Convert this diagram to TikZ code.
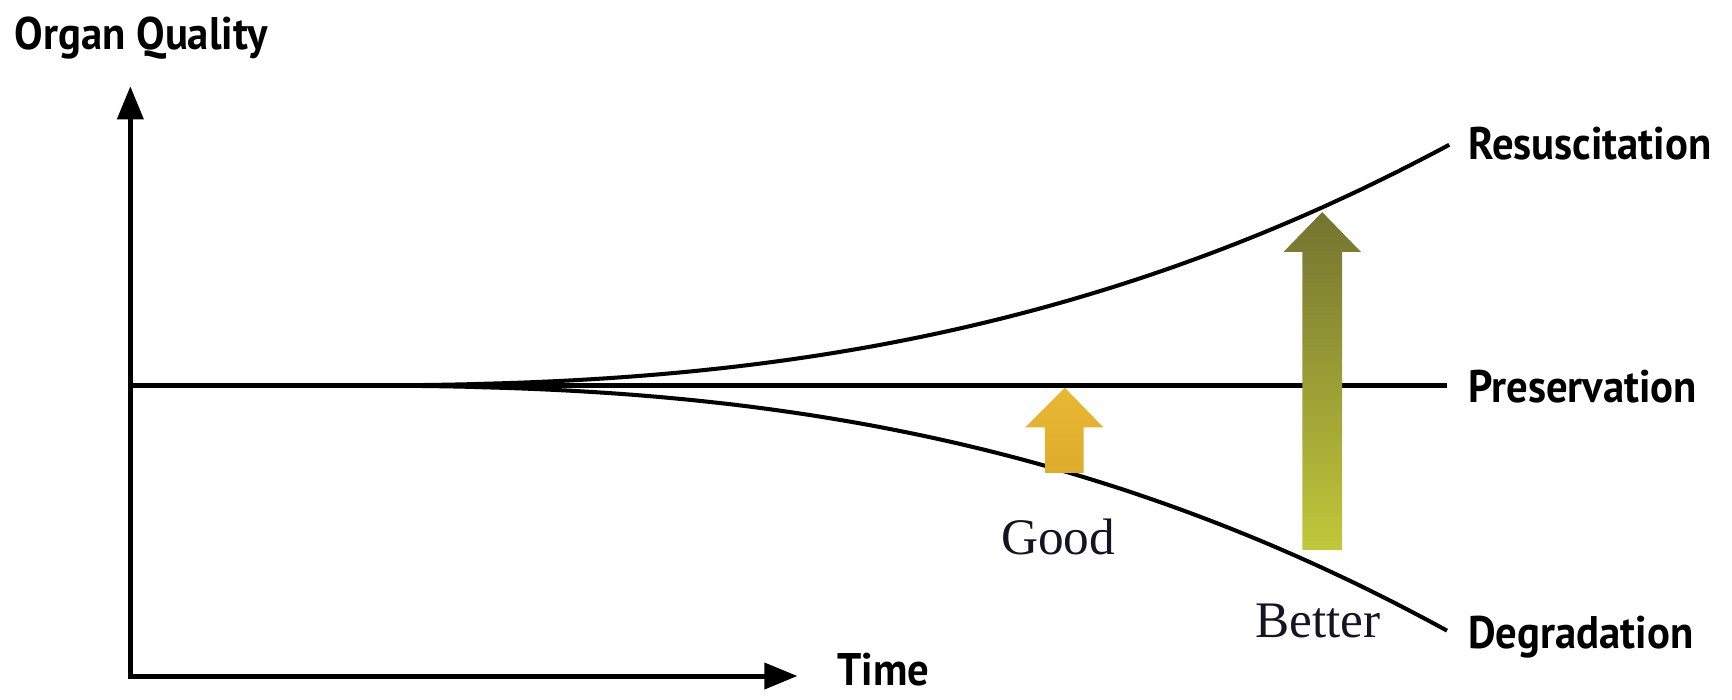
\documentclass[tikz,border=0pt]{standalone}
\usepackage{fontspec}
\usetikzlibrary{arrows.meta}
\newfontfamily\lblfont[FakeStretch=0.935]{PT Sans}
\newfontfamily\notefont{Liberation Serif}
\definecolor{goldtop}{RGB}{232,184,50}
\definecolor{goldbot}{RGB}{222,172,44}
\definecolor{olivetop}{RGB}{116,116,48}
\definecolor{olivemid}{RGB}{150,156,50}
\definecolor{olivebot}{RGB}{192,200,58}
\definecolor{notetext}{RGB}{20,20,35}
\begin{document}
\begin{tikzpicture}[x=0.025cm,y=-0.025cm,
  axis/.style={line width=3.2pt, line join=miter,
    {Triangle[length=0.75cm,width=0.58cm]}-{Triangle[length=0.75cm,width=0.58cm]}},
  curve/.style={line width=2.6pt},
  lbl/.style={font=\lblfont\bfseries\fontsize{29.4}{30}\selectfont, anchor=base west, inner sep=0pt},
  note/.style={font=\notefont\fontsize{33}{33}\selectfont, text=notetext, anchor=base west, inner sep=0pt}]
\useasboundingbox (0,0) rectangle (1568,633);

% axes
\coordinate (origin) at (118,612);
\coordinate (ytip) at (118,78);
\coordinate (xtip) at (722,612);
\draw[axis] (ytip) -- (origin) -- (xtip);

% axis titles and curve labels
\node[lbl] (ylab) at (13,45) {Organ Quality};
\node[lbl, text depth=0pt] (xlab) at (758,621) {Time};
\node[lbl] (res) at (1329,144) {Resuscitation};
\node[lbl] (pres) at (1329,364) {Preservation};
\node[lbl] (deg) at (1329,587) {Degradation};

% preservation baseline and the two diverging trends
\coordinate (pstart) at (118,349);
\coordinate (pend) at (1310,349);
\draw[curve] (pstart) -- (pend);
\draw[curve] plot[domain=300.5:1312, samples=90] (\x, {349-218*((\x-300)/1012)^2.5});
\draw[curve] plot[domain=300.5:1310, samples=90] (\x, {349+222*((\x-300)/1010)^2.5});

% improvement arrows
\shade[top color=goldtop, bottom color=goldbot]
  (964,351) -- (999,387) -- (981,387) -- (981,428) -- (946,428) -- (946,387) -- (928,387) -- cycle;
\shade[top color=olivetop, middle color=olivemid, bottom color=olivebot]
  (1197,192) -- (1232,228) -- (1215,228) -- (1215,498) -- (1179,498) -- (1179,228) -- (1162,228) -- cycle;

\node[note] (good) at (906,502) {Good};
\node[note] (better) at (1136,577) {Better};
\end{tikzpicture}
\end{document}
